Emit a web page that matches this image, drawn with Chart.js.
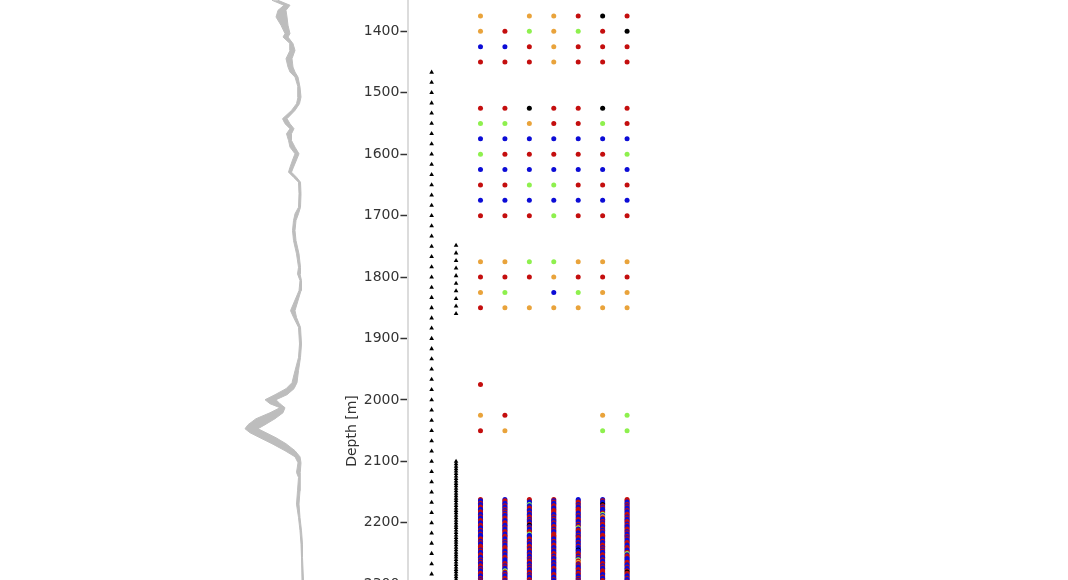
<!DOCTYPE html>
<html>
<head>
<meta charset="utf-8">
<script src="https://cdn.jsdelivr.net/npm/chart.js@4"></script>
<style>
  html, body { margin: 0; padding: 0; background: #ffffff; overflow: hidden; width: 1068px; height: 580px; }
  #main { position: absolute; left: 0; top: 0; }
  #log { position: absolute; left: 230px; top: 0; z-index: 2; }
</style>
</head>
<body>
<canvas id="main" width="1068" height="862"></canvas>
<canvas id="log" width="120" height="862"></canvas>
<script>
// ---------------- DATA ----------------
// Depth axis ticks
const tickValues = [1400, 1500, 1600, 1700, 1800, 1900, 2000, 2100, 2200, 2300, 2400, 2500, 2600, 2700];
const tickLabels = ['1400', '1500', '1600', '1700', '1800', '1900', '2000', '2100', '2200', '2300', '2400', '2500', '2600', '2700'];

// Triangle marker columns (depths, m)
const triangleDepthsA = [1466.7, 1483.3, 1500, 1516.7, 1533.3, 1550, 1566.7, 1583.3, 1600, 1616.7,
  1633.3, 1650, 1666.7, 1683.3, 1700, 1716.7, 1733.3, 1750, 1766.7, 1783.3,
  1800, 1816.7, 1833.3, 1850, 1866.7, 1883.3, 1900, 1916.7, 1933.3, 1950,
  1966.7, 1983.3, 2000, 2016.7, 2033.3, 2050, 2066.7, 2083.3, 2100, 2116.7,
  2133.3, 2150, 2166.7, 2183.3, 2200, 2216.7, 2233.3, 2250, 2266.7, 2283.3, 2300];
const triangleDepthsB = [1748.5, 1760.9, 1773.2, 1785.6, 1797.9, 1810.3, 1822.6, 1835, 1847.3, 1859.7,
  2100, 2104, 2108, 2112, 2116, 2120, 2124, 2128, 2132, 2136,
  2140, 2144, 2148, 2152, 2156, 2160, 2164, 2168, 2172, 2176,
  2180, 2184, 2188, 2192, 2196, 2200, 2204, 2208, 2212, 2216,
  2220, 2224, 2228, 2232, 2236, 2240, 2244, 2248, 2252, 2256,
  2260, 2264, 2268, 2272, 2276, 2280, 2284, 2288, 2292, 2296, 2300];

// Sparse sample rows: depth and class code per column (7 columns), '-' = no sample
const sparseDepths = [1375, 1400, 1425, 1450, 1525, 1550, 1575, 1600, 1625, 1650, 1675, 1700,
  1775, 1800, 1825, 1850, 1975, 2025, 2050];
const sparseCodes = [
  'O-OORKR', 'ORGOGRK', 'BBRORRR', 'RRRORRR',
  'RRKRRKR', 'GGORRGR', 'BBBBBBB', 'GRRRRRG', 'BBBBBBB', 'RRGGRRR', 'BBBBBBB', 'RRRGRRR',
  'OOGGOOO', 'RRRORRR', 'OG-BGOO', 'ROOOOOO',
  'R------', 'OR---OG', 'RO---GG'
];

// Dense sampled interval depths (m)
const denseDepths = [2162, 2164, 2166, 2168, 2170, 2172, 2174, 2176, 2178, 2180,
  2182, 2184, 2186, 2188, 2190, 2192, 2194, 2196, 2198, 2200,
  2202, 2204, 2206, 2208, 2210, 2212, 2214, 2216, 2218, 2220,
  2222, 2224, 2226, 2228, 2230, 2232, 2234, 2236, 2238, 2240,
  2242, 2244, 2246, 2248, 2250, 2252, 2254, 2256, 2258, 2260,
  2262, 2264, 2266, 2268, 2270, 2272, 2274, 2276, 2278, 2280,
  2282, 2284, 2286, 2288, 2290, 2292, 2294, 2296, 2298, 2300];
// Class codes of dense interval, one string per column
const denseCol1 = ['RBBRBBRRBB', 'RRBBRBBRRB', 'BRRBBRBBRB', 'BBRRBRBBRR', 'RBRBBRRBBR', 'BRBBRRBRBB', 'RRBBRBRBBR'].join('');
const denseCol2 = ['BRRBBRBBRB', 'RBRBBRRBBR', 'RBBRBBRRBB', 'RRBBRBRBBR', 'RRBBRBBRRB', 'BBRRBRBBGR', 'BRBBRRBRBB'].join('');
const denseCol3 = ['RRBBGBBRRB', 'BRBBRRBRBB', 'RKBRBBRRGB', 'BBRRBRBBRR', 'BRRBBRBBRB', 'RRBBRBRBBR', 'RBRBBRRBBR'].join('');
const denseCol4 = ['RBRBBRRBBR', 'RRBBRBRBBR', 'BBRRBRBBRR', 'RRBBRBBRRB', 'BRBBRRBRBB', 'RBBRBBRRBB', 'BRRBBRBBRB'].join('');
const denseCol5 = ['BBRRBRBBRR', 'RBBRBBRRBB', 'RBRGBRRBBR', 'BRRBBRBBRB', 'BKBBRRBRBG', 'RORBRBBRRB', 'RRBBRBRBBR'].join('');
const denseCol6 = ['BRBBKRBRBB', 'BRGBORBBRB', 'RRBBRBRBBR', 'RRBBRBBRRB', 'RBRBBRRBBR', 'BBRRBRBBRR', 'RBBRBBRRBB'].join('');
const denseCol7 = ['RRBBRBRBBR', 'BBRRBRBBRR', 'BRBBRRBRBB', 'RBRBBRRBBR', 'RBBRGBRRBB', 'BRRBBRBBRK', 'RRBBRBBRRB'].join('');
const denseCodes = [denseCol1, denseCol2, denseCol3, denseCol4, denseCol5, denseCol6, denseCol7];

// Class colours
const classColors = { R: '#c40e0e', B: '#0c0cd6', G: '#8ef04e', O: '#e9a33b', K: '#000000' };

// Log curve (band between low and high reading) vs depth
const logDepth = [1349.5, 1357.6, 1365.8, 1376.7, 1390.2, 1403.7, 1409.3, 1420.0, 1431.0, 1444.5,
  1458.2, 1466.3, 1474.5, 1490.8, 1507.0, 1517.8, 1528.7, 1542.2, 1550.4, 1558.5,
  1566.7, 1577.6, 1588.5, 1599.3, 1607.4, 1621.1, 1629.2, 1637.4, 1645.5, 1664.4,
  1686.3, 1697.0, 1707.9, 1724.2, 1740.5, 1762.2, 1784.0, 1794.8, 1805.7, 1822.0,
  1854.6, 1865.5, 1881.8, 1908.8, 1930.7, 1952.3, 1971.9, 1981.7, 1991.4, 1999.6,
  2006.1, 2012.6, 2020.8, 2030.5, 2040.3, 2046.8, 2053.3, 2061.5, 2071.2, 2082.6,
  2092.5, 2102.2, 2118.0, 2126.1, 2147.8, 2169.5, 2191.3, 2213.0, 2234.7, 2256.5,
  2294.4, 2330];
const logLow = [42, 54, 48, 46, 51, 55, 53, 60, 60, 56,
  58, 60, 65, 68, 68, 66.5, 61.5, 52.5, 55, 60,
  56.5, 58.5, 60, 65, 63, 60, 58.5, 63.5, 68.5, 69,
  68.5, 65, 63.5, 62.5, 63.5, 66.5, 68.5, 67.5, 70, 69,
  60.5, 63.5, 68.5, 69.5, 68.5, 65, 62, 56, 45, 35,
  40, 50, 40, 26, 18, 15, 20, 30, 42, 55,
  65, 68, 66.5, 68.5, 67.5, 66.5, 68.5, 70, 71, 71.5,
  72, 72];
const logHigh = [48, 60, 56, 57, 58, 60, 58, 63, 65, 62,
  63, 65, 68, 70, 71, 69.5, 65, 57, 60, 64,
  61.5, 61.5, 65, 69, 67, 63.5, 61.5, 66.5, 70.5, 71,
  70.5, 68.5, 66, 65, 66, 69, 70.5, 70, 71.5, 71,
  65, 66.5, 70.5, 71.5, 70.5, 68.5, 67, 64, 57, 46,
  50, 55, 53, 45, 35, 28, 36, 46, 56, 65,
  70, 71, 70, 70.5, 70, 69, 70, 71.5, 72.5, 72.5,
  73.5, 74];

// ---------------- AXIS RANGE ----------------
const depthTop = 1349;
const depthBottom = 2752;

// ---------------- MAIN CHART ----------------
const datasets = [];
datasets.push({
  label: 'Marker A',
  data: triangleDepthsA.map(d => ({ x: 0, y: d })),
  pointStyle: 'triangle', pointRadius: 2.7, pointBackgroundColor: '#000', pointBorderColor: '#000', pointBorderWidth: 0
});
datasets.push({
  label: 'Marker B',
  data: triangleDepthsB.map(d => ({ x: 1, y: d })),
  pointStyle: 'triangle', pointRadius: 2.7, pointBackgroundColor: '#000', pointBorderColor: '#000', pointBorderWidth: 0
});
for (let c = 0; c < 7; c++) {
  const pts = [], cols = [];
  sparseDepths.forEach((d, r) => {
    const code = sparseCodes[r][c];
    if (code !== '-') { pts.push({ x: c + 2, y: d }); cols.push(classColors[code]); }
  });
  denseDepths.forEach((d, k) => {
    const code = denseCodes[c][k];
    if (code && code !== '-') { pts.push({ x: c + 2, y: d }); cols.push(classColors[code]); }
  });
  datasets.push({
    label: 'Column ' + (c + 1),
    data: pts,
    pointStyle: 'circle', pointRadius: 2.5,
    pointBackgroundColor: cols, pointBorderColor: cols, pointBorderWidth: 0
  });
}

new Chart(document.getElementById('main'), {
  type: 'scatter',
  data: { datasets },
  options: {
    responsive: false,
    animation: false,
    devicePixelRatio: 1,
    layout: { autoPadding: false, padding: { left: 338, right: 0, top: 0, bottom: 0 } },
    plugins: { legend: { display: false }, tooltip: { enabled: false } },
    scales: {
      x: { type: 'linear', display: false, min: -0.95, max: 26.05 },
      y: {
        type: 'linear', reverse: true, min: depthTop, max: depthBottom,
        afterBuildTicks: s => { s.ticks = tickValues.map(v => ({ value: v })); },
        afterFit: s => { s.paddingTop = 0; s.paddingBottom = 0; },
        ticks: {
          font: { family: 'DejaVu Sans', size: 14 }, color: '#333333', padding: 1,
          callback: (v) => { const i = tickValues.indexOf(v); return i >= 0 ? tickLabels[i] : ''; }
        },
        grid: { display: true, drawOnChartArea: false, drawTicks: true, tickLength: 8, tickColor: '#333333', tickWidth: 1.5 },
        border: { display: true, color: '#dcdcdc', width: 2 },
        title: { display: true, text: 'Depth [m]', font: { family: 'DejaVu Sans', size: 14 }, color: '#333333', padding: { top: 6, bottom: 2 } }
      }
    }
  }
});

// ---------------- LOG CURVE CHART ----------------
const bandPoints = [];
logDepth.forEach((d, i) => bandPoints.push({ x: logLow[i], y: d }));
for (let i = logDepth.length - 1; i >= 0; i--) bandPoints.push({ x: logHigh[i], y: logDepth[i] });

new Chart(document.getElementById('log'), {
  type: 'scatter',
  data: {
    datasets: [{
      label: 'Log',
      data: bandPoints,
      showLine: true,
      fill: 'shape',
      tension: 0,
      backgroundColor: '#bdbdbd',
      borderColor: '#bdbdbd',
      borderWidth: 1,
      pointRadius: 0
    }]
  },
  options: {
    responsive: false,
    animation: false,
    devicePixelRatio: 1,
    layout: { autoPadding: false, padding: 0 },
    plugins: { legend: { display: false }, tooltip: { enabled: false } },
    scales: {
      x: { type: 'linear', display: false, min: 0, max: 120 },
      y: { type: 'linear', display: false, reverse: true, min: depthTop, max: depthBottom }
    }
  }
});
</script>
</body>
</html>
